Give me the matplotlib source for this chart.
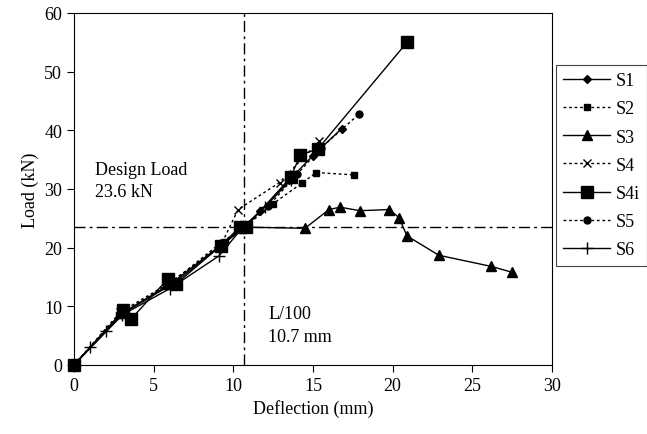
import matplotlib.pyplot as plt
import numpy as np

plt.rcParams['font.family'] = ['Liberation Serif', 'DejaVu Serif']

# test data: deflection (mm), load (kN)
s1_x = [0, 3.2, 6.3, 9.3, 10.7, 11.7, 13.5, 15.0, 16.8]
s1_y = [0, 9.0, 14.0, 20.5, 23.5, 26.3, 31.5, 35.7, 40.3]

s2_x = [0, 2.8, 5.8, 9.5, 10.8, 12.5, 14.3, 15.2, 17.6]
s2_y = [0, 8.5, 13.5, 21.0, 23.7, 27.5, 31.0, 32.8, 32.4]

s3_x = [0, 3.0, 6.1, 9.3, 10.7, 14.5, 16.0, 16.7, 17.95, 19.8, 20.4, 20.9, 22.9, 26.2, 27.5]
s3_y = [0, 8.8, 13.9, 20.6, 23.5, 23.3, 26.5, 26.9, 26.3, 26.5, 25.1, 22.0, 18.7, 16.8, 15.8]

s4_x = [0, 2.9, 6.0, 9.2, 10.3, 12.9, 15.4]
s4_y = [0, 9.0, 14.0, 20.3, 26.5, 31.1, 38.2]

s4i_x = [0, 3.1, 3.6, 5.9, 6.4, 9.2, 10.4, 10.8, 13.6, 14.2, 15.3, 20.9]
s4i_y = [0, 9.3, 7.9, 14.7, 13.8, 20.3, 23.5, 23.5, 32.0, 35.8, 36.8, 55.0]

s5_x = [0, 3.0, 6.0, 9.2, 10.7, 12.2, 14.0, 15.5, 17.9]
s5_y = [0, 8.8, 13.8, 20.8, 23.5, 27.1, 32.5, 37.0, 42.8]

s6_x = [0, 1.0, 2.0, 3.0, 6.0, 9.1, 10.6, 12.0, 13.6]
s6_y = [0, 3.0, 5.8, 8.5, 13.0, 18.6, 23.5, 27.0, 31.5]

design_load = 23.6
l100 = 10.7

fig = plt.figure(figsize=(6.47, 4.35), dpi=100)
ax = fig.add_axes([74/647, 69/435, 478/647, 352/435])

dot = (0, (2, 2))
ax.plot(s1_x, s1_y, '-', color='k', lw=1, marker='D', ms=4, label='S1', clip_on=False)
ax.plot(s2_x, s2_y, linestyle=dot, color='k', lw=1, marker='s', ms=4.5, label='S2', clip_on=False)
ax.plot(s3_x, s3_y, '-', color='k', lw=1, marker='^', ms=6.5, label='S3', clip_on=False)
ax.plot(s4_x, s4_y, linestyle=dot, color='k', lw=1, marker='x', ms=6, label='S4', clip_on=False)
ax.plot(s4i_x, s4i_y, '-', color='k', lw=1, marker='s', ms=9, label='S4i', clip_on=False)
ax.plot(s5_x, s5_y, linestyle=dot, color='k', lw=1, marker='o', ms=5, label='S5', clip_on=False)
ax.plot(s6_x, s6_y, '-', color='k', lw=1, marker='+', ms=8, label='S6', clip_on=False)

ax.axvline(l100, color='k', lw=1, linestyle=(0, (8, 3, 2, 3)), zorder=0)
ax.axhline(design_load, color='k', lw=1, linestyle=(0, (8, 3, 2, 3)), zorder=0)

ax.text(1.3, 33.4, 'Design Load', fontsize=13, va='center')
ax.text(1.3, 29.5, '23.6 kN', fontsize=13, va='center')
ax.text(12.2, 8.7, 'L/100', fontsize=13, va='center')
ax.text(12.2, 4.9, '10.7 mm', fontsize=13, va='center')

ax.set_xlim(0, 30)
ax.set_ylim(0, 60)
ax.set_xticks(np.arange(0, 31, 5))
ax.set_yticks(np.arange(0, 61, 10))
ax.tick_params(direction='out', length=5, labelsize=13, top=False, right=False)
ax.set_xlabel('Deflection (mm)', fontsize=13)
ax.set_ylabel('Load (kN)', fontsize=13)

leg = ax.legend(loc='upper left', bbox_to_anchor=(556/647, 1 - 66/435),
                bbox_transform=fig.transFigure, borderaxespad=0,
                fontsize=13, handlelength=2.6, handletextpad=0.3,
                borderpad=0.4, labelspacing=0.62,
                fancybox=False, edgecolor='#444444', framealpha=1)
leg.get_frame().set_linewidth(0.8)

fig.savefig('out.png', dpi=100)
